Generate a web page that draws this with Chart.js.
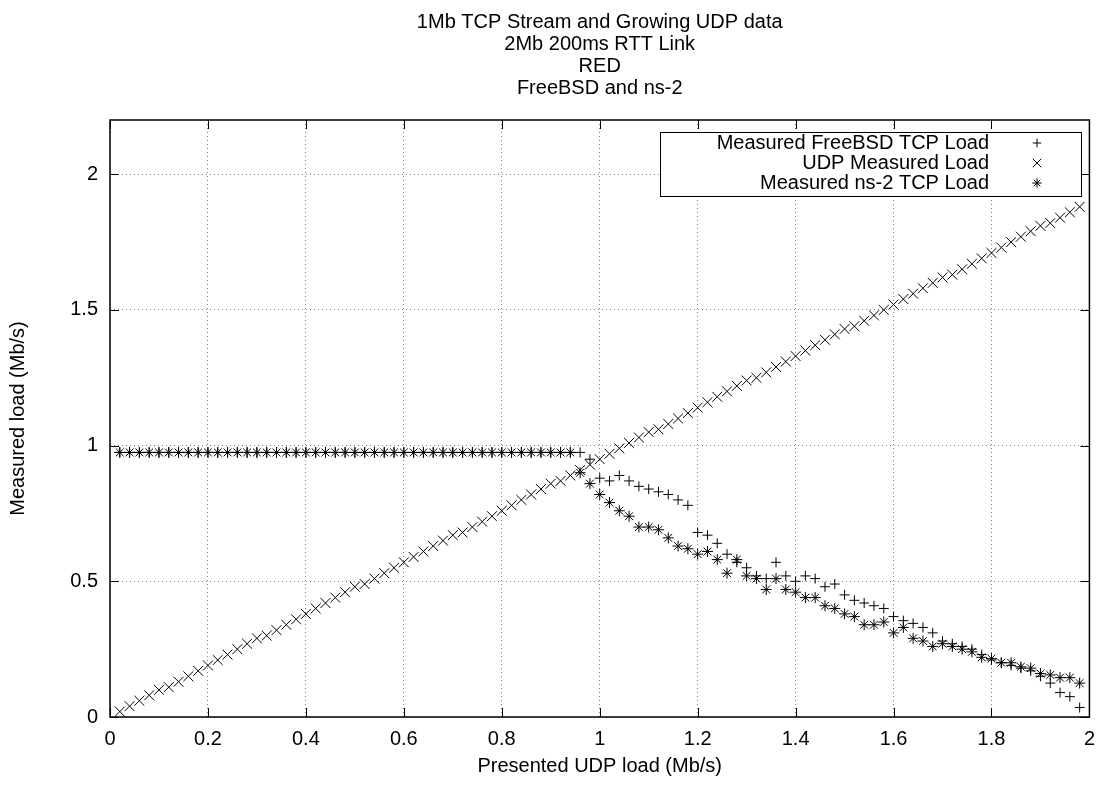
<!DOCTYPE html>
<html>
<head>
<meta charset="utf-8">
<script src="https://cdn.jsdelivr.net/npm/chart.js@4.4.1/dist/chart.umd.min.js"></script>
<style>
  html, body { margin: 0; padding: 0; background: #fff; }
  #wrap { width: 1105px; height: 785px; }
</style>
</head>
<body>
<div id="wrap"><canvas id="chart" width="1105" height="785"></canvas></div>
<script>
// Chart text
const titleLines = ['1Mb TCP Stream and Growing UDP data', '2Mb 200ms RTT Link', 'RED', 'FreeBSD and ns-2'];
const xTitle = 'Presented UDP load (Mb/s)';
const yTitle = 'Measured load (Mb/s)';
const seriesLabels = ['Measured FreeBSD TCP Load', 'UDP Measured Load', 'Measured ns-2 TCP Load'];

// Presented UDP load (x)
const xValues = [
  0.02, 0.04, 0.06, 0.08, 0.10, 0.12, 0.14, 0.16, 0.18, 0.20,
  0.22, 0.24, 0.26, 0.28, 0.30, 0.32, 0.34, 0.36, 0.38, 0.40,
  0.42, 0.44, 0.46, 0.48, 0.50, 0.52, 0.54, 0.56, 0.58, 0.60,
  0.62, 0.64, 0.66, 0.68, 0.70, 0.72, 0.74, 0.76, 0.78, 0.80,
  0.82, 0.84, 0.86, 0.88, 0.90, 0.92, 0.94, 0.96, 0.98, 1.00,
  1.02, 1.04, 1.06, 1.08, 1.10, 1.12, 1.14, 1.16, 1.18, 1.20,
  1.22, 1.24, 1.26, 1.28, 1.30, 1.32, 1.34, 1.36, 1.38, 1.40,
  1.42, 1.44, 1.46, 1.48, 1.50, 1.52, 1.54, 1.56, 1.58, 1.60,
  1.62, 1.64, 1.66, 1.68, 1.70, 1.72, 1.74, 1.76, 1.78, 1.80,
  1.82, 1.84, 1.86, 1.88, 1.90, 1.92, 1.94, 1.96, 1.98
];

// Measured FreeBSD TCP load
const freebsdTcp = [
  0.975, 0.975, 0.975, 0.975, 0.975, 0.975, 0.975, 0.975, 0.975, 0.975,
  0.975, 0.975, 0.975, 0.975, 0.975, 0.975, 0.975, 0.975, 0.975, 0.975,
  0.975, 0.975, 0.975, 0.975, 0.975, 0.975, 0.975, 0.975, 0.975, 0.975,
  0.975, 0.975, 0.975, 0.975, 0.975, 0.975, 0.975, 0.975, 0.975, 0.975,
  0.975, 0.975, 0.975, 0.975, 0.975, 0.975, 0.975, 0.975, 0.95, 0.88,
  0.87, 0.89, 0.87, 0.85, 0.84, 0.83, 0.82, 0.80, 0.78, 0.68,
  0.67, 0.64, 0.60, 0.57, 0.55, 0.52, 0.51, 0.57, 0.52, 0.50,
  0.52, 0.51, 0.48, 0.49, 0.45, 0.43, 0.42, 0.41, 0.40, 0.37,
  0.355, 0.345, 0.33, 0.31, 0.28, 0.27, 0.26, 0.25, 0.23, 0.21,
  0.20, 0.19, 0.18, 0.17, 0.15, 0.125, 0.09, 0.075, 0.035
];

// UDP measured load
const udpLoad = [
  0.02, 0.04, 0.06, 0.08, 0.10, 0.11, 0.13, 0.15, 0.17, 0.19,
  0.21, 0.23, 0.25, 0.27, 0.29, 0.30, 0.32, 0.34, 0.36, 0.38,
  0.40, 0.42, 0.44, 0.46, 0.48, 0.49, 0.51, 0.53, 0.55, 0.57,
  0.59, 0.61, 0.63, 0.65, 0.67, 0.68, 0.70, 0.72, 0.74, 0.76,
  0.78, 0.80, 0.82, 0.84, 0.86, 0.87, 0.89, 0.91, 0.93, 0.95,
  0.97, 0.99, 1.01, 1.03, 1.05, 1.06, 1.08, 1.10, 1.12, 1.14,
  1.16, 1.18, 1.20, 1.22, 1.24, 1.25, 1.27, 1.29, 1.31, 1.33,
  1.35, 1.37, 1.39, 1.41, 1.43, 1.44, 1.46, 1.48, 1.50, 1.52,
  1.54, 1.56, 1.58, 1.60, 1.62, 1.63, 1.65, 1.67, 1.69, 1.71,
  1.73, 1.75, 1.77, 1.79, 1.81, 1.82, 1.84, 1.86, 1.88
];

// Measured ns-2 TCP load
const ns2Tcp = [
  0.975, 0.975, 0.975, 0.975, 0.975, 0.975, 0.975, 0.975, 0.975, 0.975,
  0.975, 0.975, 0.975, 0.975, 0.975, 0.975, 0.975, 0.975, 0.975, 0.975,
  0.975, 0.975, 0.975, 0.975, 0.975, 0.975, 0.975, 0.975, 0.975, 0.975,
  0.975, 0.975, 0.975, 0.975, 0.975, 0.975, 0.975, 0.975, 0.975, 0.975,
  0.975, 0.975, 0.975, 0.975, 0.975, 0.975, 0.975, 0.90, 0.86, 0.82,
  0.79, 0.76, 0.74, 0.70, 0.70, 0.69, 0.66, 0.63, 0.62, 0.60,
  0.61, 0.58, 0.53, 0.58, 0.52, 0.51, 0.47, 0.51, 0.47, 0.46,
  0.44, 0.44, 0.41, 0.40, 0.38, 0.37, 0.34, 0.34, 0.35, 0.31,
  0.33, 0.29, 0.28, 0.26, 0.27, 0.26, 0.25, 0.24, 0.22, 0.215,
  0.20, 0.20, 0.185, 0.18, 0.16, 0.155, 0.145, 0.145, 0.125
];

// Axis ticks
const xTicks = [0, 0.2, 0.4, 0.6, 0.8, 1, 1.2, 1.4, 1.6, 1.8, 2];
const xTickLabels = ['0', '0.2', '0.4', '0.6', '0.8', '1', '1.2', '1.4', '1.6', '1.8', '2'];
const yTicks = [0, 0.5, 1, 1.5, 2];
const yTickLabels = ['0', '0.5', '1', '1.5', '2'];

const FONT = '"Liberation Sans", Arial, Helvetica, sans-serif';
const markStyles = ['cross', 'crossRot', 'star'];
const markRadius = [5, 7, 5.5];

function toPoints(ys) {
    return xValues.map((x, i) => ({ x: x, y: ys[i] }));
}

// small marker drawer for the key, same shapes as the plot
function drawMark(ctx, style, r, x, y) {
    const d = r * Math.SQRT1_2;
    ctx.beginPath();
    if (style === 'cross' || style === 'star') {
        ctx.moveTo(x - r, y); ctx.lineTo(x + r, y);
        ctx.moveTo(x, y - r); ctx.lineTo(x, y + r);
    }
    if (style === 'crossRot' || style === 'star') {
        ctx.moveTo(x - d, y - d); ctx.lineTo(x + d, y + d);
        ctx.moveTo(x - d, y + d); ctx.lineTo(x + d, y - d);
    }
    ctx.stroke();
}

// gnuplot-like frame: border, inward ticks, title and boxed key
const gnuplotFrame = {
    id: 'gnuplotFrame',
    afterDatasetsDraw(chart) {
        const ctx = chart.ctx;
        const area = chart.chartArea;
        const xs = chart.scales.x;
        const ys = chart.scales.y;
        const tickLen = 9;

        ctx.save();
        ctx.strokeStyle = '#000';
        ctx.lineWidth = 1;
        ctx.setLineDash([]);
        ctx.beginPath();
        xTicks.forEach(v => {
            const px = Math.round(xs.getPixelForValue(v)) + 0.5;
            ctx.moveTo(px, area.bottom); ctx.lineTo(px, area.bottom - tickLen);
            ctx.moveTo(px, area.top); ctx.lineTo(px, area.top + tickLen);
        });
        yTicks.forEach(v => {
            const py = Math.round(ys.getPixelForValue(v)) + 0.5;
            ctx.moveTo(area.left, py); ctx.lineTo(area.left + tickLen, py);
            ctx.moveTo(area.right, py); ctx.lineTo(area.right - tickLen, py);
        });
        ctx.stroke();

        ctx.lineWidth = 1.5;
        ctx.strokeRect(area.left, area.top, area.right - area.left, area.bottom - area.top);

        // key
        const box = { left: 660, right: 1081, top: 132, bottom: 196 };
        ctx.fillStyle = '#fff';
        ctx.fillRect(box.left, box.top, box.right - box.left, box.bottom - box.top);
        ctx.lineWidth = 1;
        ctx.strokeRect(box.left + 0.5, box.top + 0.5, box.right - box.left, box.bottom - box.top);
        ctx.fillStyle = '#000';
        ctx.font = '20px ' + FONT;
        ctx.textAlign = 'right';
        ctx.textBaseline = 'middle';
        seriesLabels.forEach((label, i) => {
            const y = 143 + i * 20;
            ctx.fillText(label, 989, y);
            drawMark(ctx, markStyles[i], markRadius[i] * 0.85, 1037, y);
        });

        // title, centred over the plot
        ctx.textAlign = 'center';
        const cx = (area.left + area.right) / 2;
        titleLines.forEach((line, i) => {
            ctx.fillText(line, cx, 22 + i * 22);
        });
        ctx.restore();
    }
};

const ctx = document.getElementById('chart').getContext('2d');

new Chart(ctx, {
    type: 'scatter',
    data: {
        datasets: [freebsdTcp, udpLoad, ns2Tcp].map((ys, i) => ({
            label: seriesLabels[i],
            data: toPoints(ys),
            showLine: false,
            pointStyle: markStyles[i],
            pointRadius: markRadius[i],
            pointHoverRadius: markRadius[i],
            pointBorderColor: '#000',
            pointBackgroundColor: '#000',
            pointBorderWidth: 1
        }))
    },
    options: {
        responsive: false,
        animation: false,
        events: [],
        layout: {
            padding: { top: 120, right: 11, bottom: 0, left: 0 }
        },
        plugins: {
            legend: { display: false },
            tooltip: { enabled: false },
            title: { display: false }
        },
        scales: {
            x: {
                type: 'linear',
                min: 0,
                max: 2,
                afterBuildTicks: scale => { scale.ticks = xTicks.map(v => ({ value: v })); },
                afterFit: scale => { scale.height = 68; },
                ticks: {
                    color: '#000',
                    font: { family: FONT, size: 20 },
                    padding: 10,
                    maxRotation: 0,
                    callback: (v, i) => xTickLabels[i]
                },
                grid: { color: 'rgba(0,0,0,0.5)', lineWidth: 1, drawTicks: false },
                border: { display: false, dash: [1, 3] },
                title: {
                    display: true,
                    text: xTitle,
                    color: '#000',
                    font: { family: FONT, size: 20 },
                    padding: { top: 0, bottom: 7 }
                }
            },
            y: {
                type: 'linear',
                min: 0,
                max: 2.2,
                afterBuildTicks: scale => { scale.ticks = yTicks.map(v => ({ value: v })); },
                afterFit: scale => { scale.width = 110; },
                ticks: {
                    color: '#000',
                    font: { family: FONT, size: 20 },
                    padding: 12,
                    callback: (v, i) => yTickLabels[i]
                },
                grid: { color: 'rgba(0,0,0,0.5)', lineWidth: 1, drawTicks: false },
                border: { display: false, dash: [1, 3] },
                title: {
                    display: true,
                    text: yTitle,
                    color: '#000',
                    font: { family: FONT, size: 20 },
                    padding: { top: 6, bottom: 0 }
                }
            }
        }
    },
    plugins: [gnuplotFrame]
});
</script>
</body>
</html>
